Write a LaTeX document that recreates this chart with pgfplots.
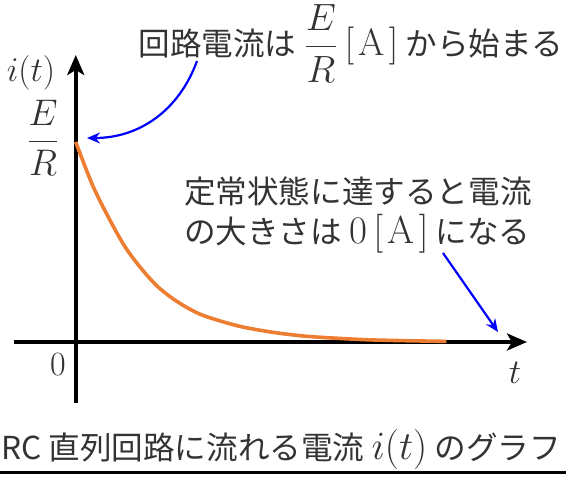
\RequirePackage{fix-cm}
\documentclass[border=0pt]{standalone}
\usepackage{fontspec}
\usepackage{pgfplots}
\pgfplotsset{compat=1.18}
\usetikzlibrary{arrows.meta}
\newfontfamily\jp{Noto Sans CJK JP}
\definecolor{curveorange}{HTML}{ED7D31}
\definecolor{txt}{HTML}{333333}
\newcommand\ann{\jp\fontsize{15.8}{19}\selectfont}
\newcommand\msize[1]{\fontsize{#1}{#1}\selectfont}
\newcommand\amp{\mathrm{[\mkern2mu A\mkern2mu]}}

\begin{document}
\begin{tikzpicture}[x=0.5pt,y=0.5pt]
\useasboundingbox (-14,-73) rectangle (552,403);
\begin{axis}[
    scale only axis,
    width=256.5pt, height=174pt,
    xmin=-0.95, xmax=6.94,
    ymin=-0.305, ymax=1.435,
    axis lines=middle,
    axis line style={line width=1.8pt, -{Stealth[length=10pt,width=8.5pt,inset=2.5pt]}},
    xtick=\empty, ytick=\empty,
    clip=false,
]
\addplot[curveorange, line width=1.8pt, smooth] coordinates {
(0,1.0) (0.25,0.79) (0.5,0.625) (0.75,0.48) (1.0,0.37) (1.25,0.28)
(1.5,0.215) (1.75,0.165) (2.0,0.128) (2.5,0.08) (3.0,0.05) (3.5,0.03)
(4.0,0.019) (4.5,0.011) (5.0,0.007) (5.7,0.003)
};
\end{axis}
% labels
\node[txt, font=\msize{17.3}] at (17,330) {$i(t)$};
\node[txt, font=\msize{18.5}] at (29,265) {$\displaystyle\frac{E}{R}$};
\node[txt, font=\msize{17}] at (44,38) {$0$};
\node[txt, font=\msize{17.3}] at (501,30) {$t$};
% annotations
\node[txt, anchor=base, font=\ann] at (337,347)
  {回路電流は {\msize{19}$\displaystyle\frac{E}{R}\,\amp$} から始まる};
\draw[blue, line width=1.1pt, -{Stealth[length=6.5pt,width=5.5pt]}] (183,342) to[bend left=35] (73,265);
\node[txt, anchor=base west, font=\ann] at (163,199)
  {定常状態に達すると電流};
\node[txt, anchor=base west, font=\ann] at (163,159)
  {の大きさは {\msize{19.5}$0\,\amp$} になる};
\draw[blue, line width=1.1pt, -{Stealth[length=6.5pt,width=5.5pt]}] (429,150) -- (484,71);
% caption
\node[txt, anchor=base, font=\jp\fontsize{15.8}{19}\selectfont] at (267,-56)
  {RC 直列回路に流れる電流 {\msize{20}$i(t)$} のグラフ};
\draw[black, line width=1.5pt] (-14,-69) -- (552,-69);
\end{tikzpicture}
\end{document}
